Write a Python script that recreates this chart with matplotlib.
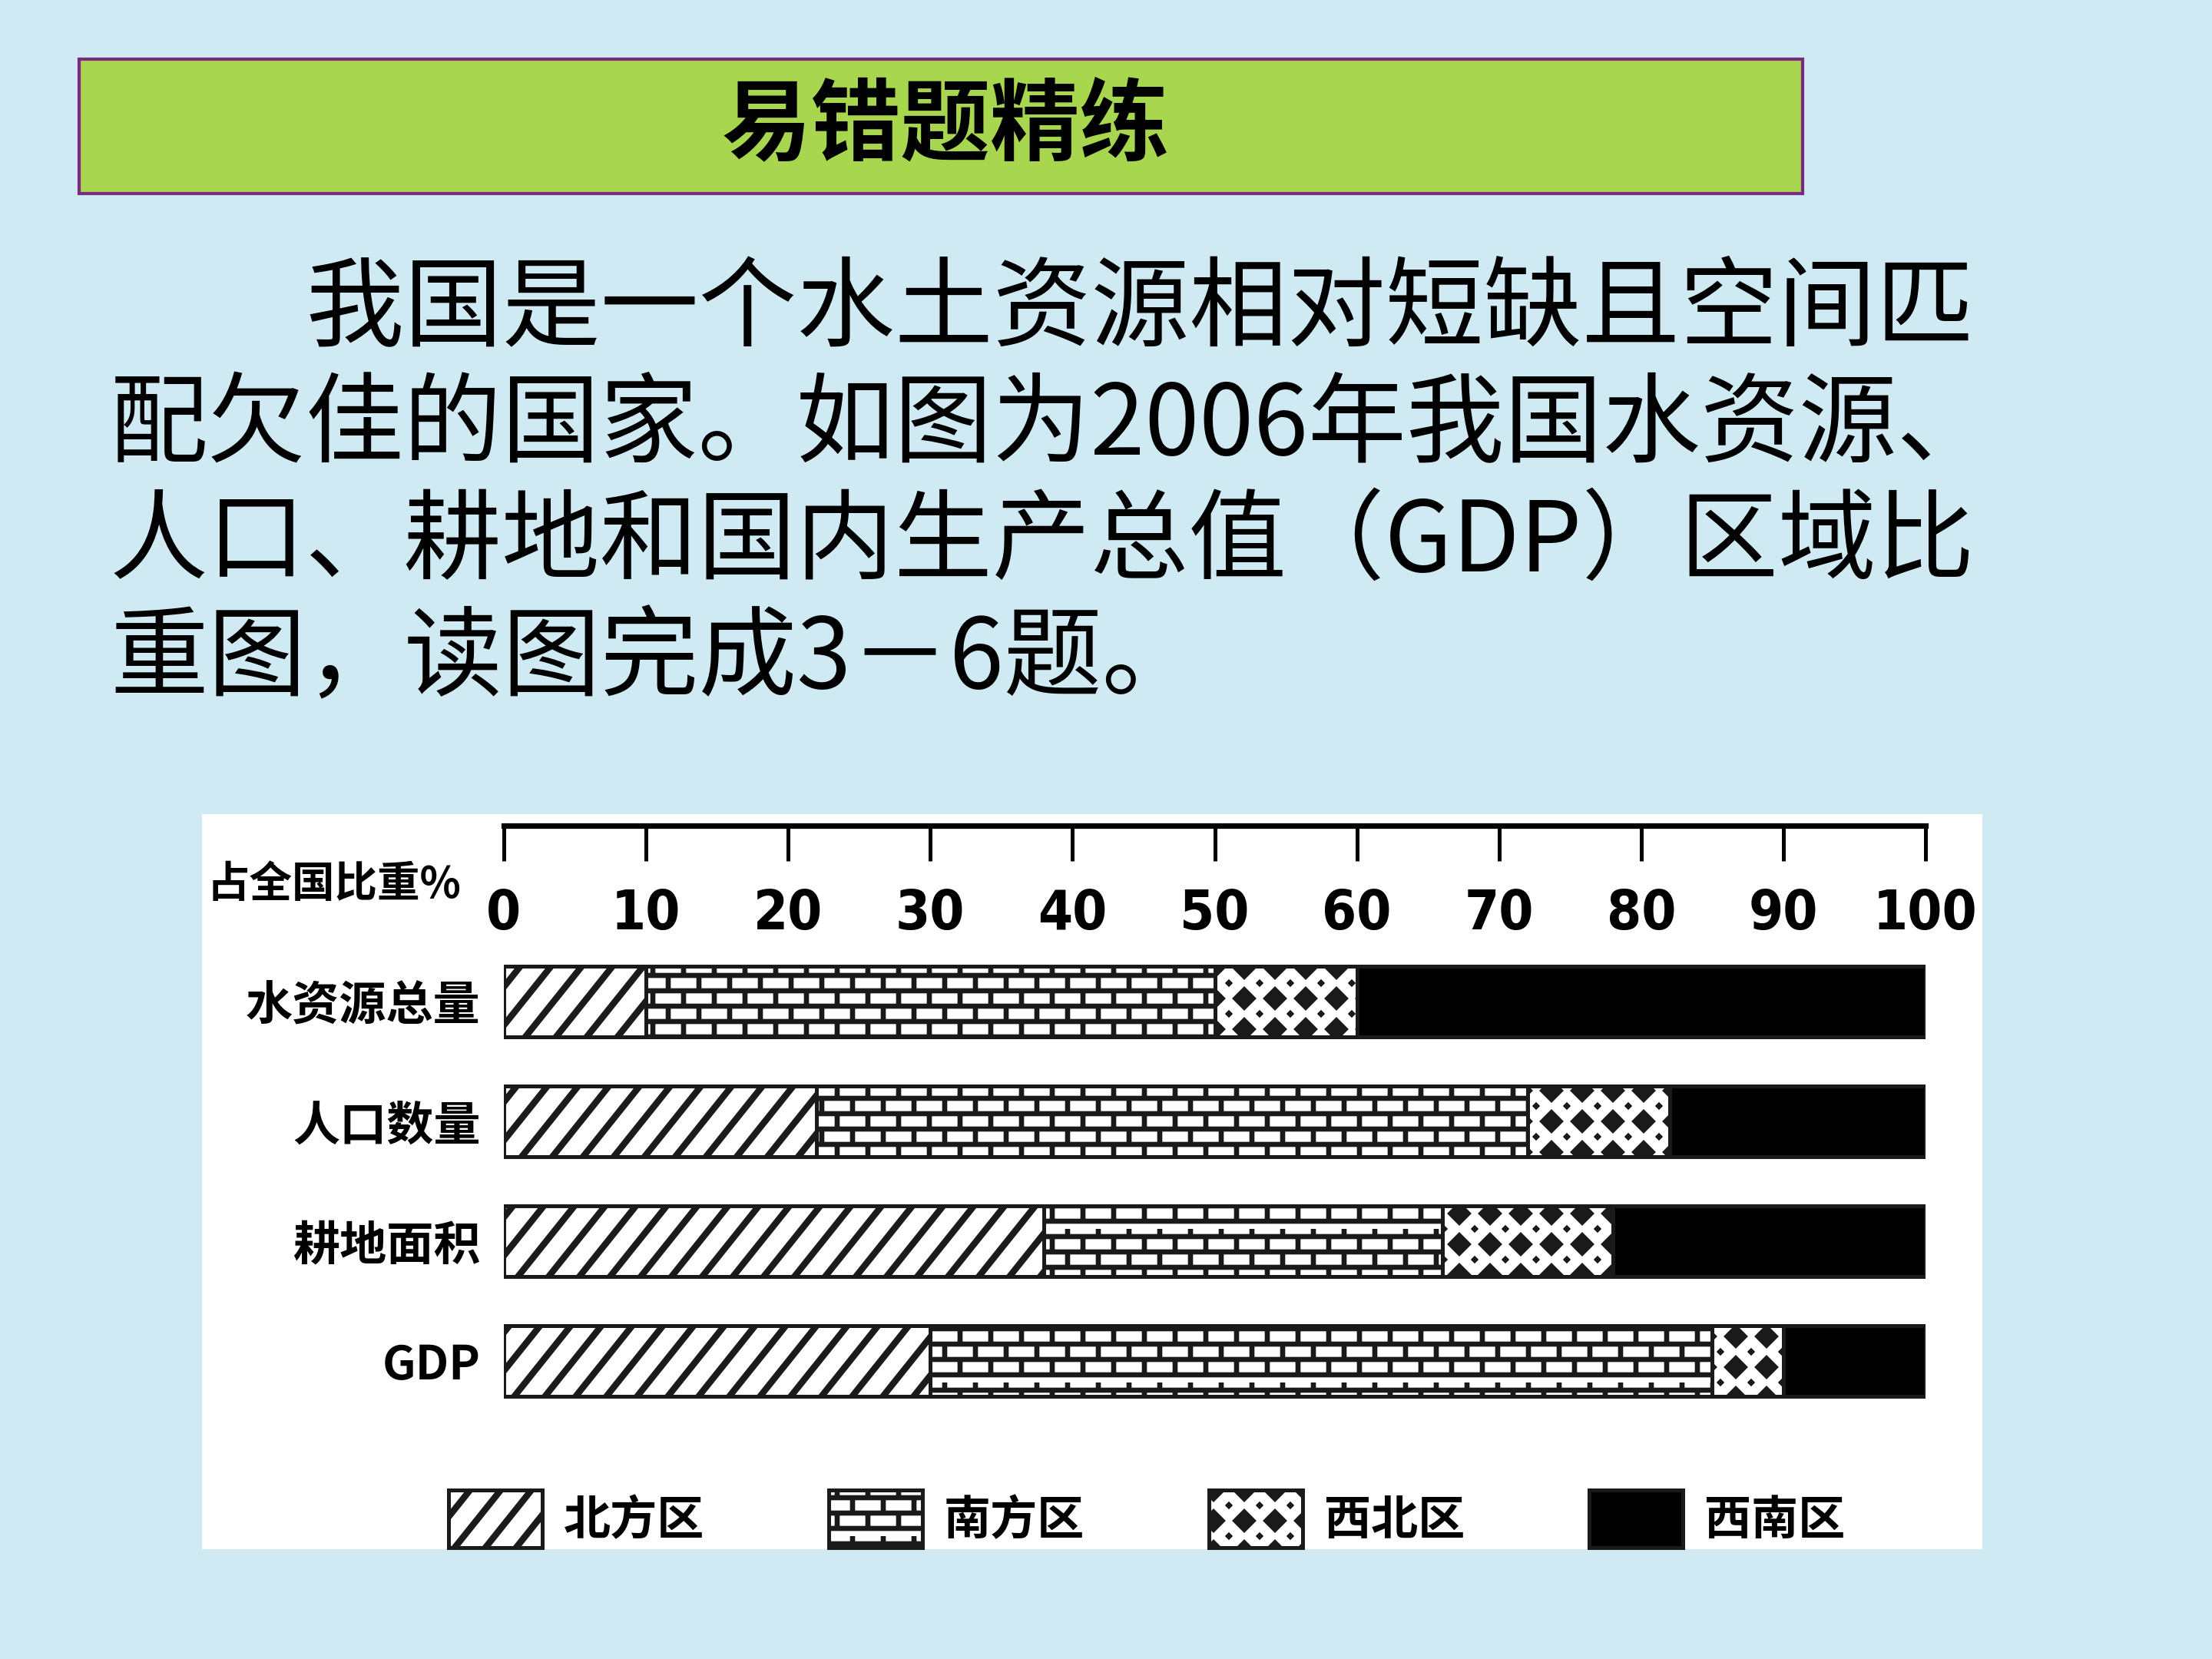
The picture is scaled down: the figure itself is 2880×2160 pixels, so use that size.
import warnings
import numpy as np
import matplotlib
matplotlib.use('Agg')
import matplotlib.pyplot as plt
import matplotlib.hatch as mhatch
from matplotlib.path import Path
from matplotlib.patches import Rectangle
from matplotlib import font_manager as fm

warnings.filterwarnings('ignore')

# データ ---------------------------------------------
categories = ['水资源总量', '人口数量', '耕地面积', 'GDP']
regions = ['北方区', '南方区', '西北区', '西南区']
north = [10, 22, 38, 30]
south = [40, 50, 28, 55]
northwest = [10, 10, 12, 5]
southwest = [40, 18, 22, 10]
xticks = [0, 10, 20, 30, 40, 50, 60, 70, 80, 90, 100]

title = '易错题精练'
body = ['　　我国是一个水土资源相对短缺且空间匹',
        '配欠佳的国家。如图为2006年我国水资源、',
        '人口、耕地和国内生产总值（GDP）区域比',
        '重图，读图完成3－6题。']


# 独自のハッチ (斜線・レンガ・ひし形)、塗りつぶし多角形で作る ----
def _rect(x0, y0, x1, y1):
    return [(x0, y0), (x1, y0), (x1, y1), (x0, y1)]


def _diamond(cx, cy, h):
    return [(cx - h, cy), (cx, cy - h), (cx + h, cy), (cx, cy + h)]


class _Custom(mhatch.HatchPatternBase):
    key = '?'

    def __init__(self, hatch, density):
        self.shapes = self.make() if (hatch and self.key in hatch) else []
        self.num_vertices = sum(len(p) + 1 for p in self.shapes)

    def set_vertices_and_codes(self, vertices, codes):
        k = 0
        for pts in self.shapes:
            n = len(pts)
            vertices[k:k + n] = pts
            codes[k] = Path.MOVETO
            codes[k + 1:k + n] = Path.LINETO
            vertices[k + n] = pts[0]
            codes[k + n] = Path.CLOSEPOLY
            k += n + 1


class Stripe(_Custom):
    key = 'n'

    def make(self):
        w = 0.04
        return [[(x0, -0.05), (x0 + w, -0.05), (x0 + w + 0.88, 1.05), (x0 + 0.88, 1.05)]
                for x0 in [k / 5 - 0.04 for k in range(-7, 8)]]


class Brick(_Custom):
    key = 'b'

    def make(self):
        out = []
        rows, cols, t = 10, 5, 0.011
        for i in range(rows):
            y = (i + 0.5) / rows
            out.append(_rect(-0.05, y - t, 1.05, y + t))
            for j in range(cols + 1):
                x = (j + 0.25 + 0.5 * (i % 2)) / cols
                out.append(_rect(x - t, y, x + t, y + 1 / rows))
        return out


class Diamond(_Custom):
    key = 'd'

    def make(self):
        out = [_diamond(0.2 * i + 0.1, 0.2 * j + 0.1, 0.072)
               for i in range(5) for j in range(5)]
        out += [_diamond(0.2 * i, 0.2 * j, 0.018) for i in range(6) for j in range(6)]
        return out


mhatch._hatch_types.extend([Stripe, Brick, Diamond])

# フォント ------------------------------------------
plt.rcParams['font.family'] = ['Noto Sans CJK SC', 'DejaVu Sans']
plt.rcParams['hatch.linewidth'] = 0.8

# 数字用に細長い書体を探す (なければ Liberation Sans)
num_prop = None
for f in fm.fontManager.ttflist:
    fn = f.fname.lower()
    if ('narrow' in fn or 'condensed' in fn) and 'bold' in fn and 'oblique' not in fn \
            and 'italic' not in fn and 'sans' in fn and 'mono' not in fn:
        num_prop = fm.FontProperties(fname=f.fname, size=26)
        break
if num_prop is None:
    num_prop = fm.FontProperties(family='Liberation Sans', weight='bold', size=24)

W, H = 2880, 2160
fig = plt.figure(figsize=(14.4, 10.8), dpi=200)
fig.patch.set_facecolor('#d0eaf4')

# スライド部分 (ピクセル座標) -------------------------
bg = fig.add_axes([0, 0, 1, 1])
bg.set_xlim(0, W)
bg.set_ylim(H, 0)
bg.axis('off')
bg.add_patch(Rectangle((103, 77), 2244, 175, facecolor='#a8d64e',
                       edgecolor='#7b2a83', linewidth=1.5))
bg.text(1231, 165, title, ha='center', va='center', fontsize=42,
        fontweight='bold', color='black')
for i, line in enumerate(body):
    bg.text(143, 404 + 152 * i, line, ha='left', va='center', fontsize=46,
            color='black')
bg.add_patch(Rectangle((263, 1060), 2318, 957, facecolor='white',
                       edgecolor='none'))
bg.text(270, 1152, '占全国比重%', ha='left', va='center', fontsize=20,
        fontweight='bold')

# 棒グラフ ------------------------------------------
ax = fig.add_axes([656 / W, 1 - 1890 / H, (2507 - 656) / W, (1890 - 1075) / H])
ax.patch.set_visible(False)
y = np.arange(len(categories))
series = [north, south, northwest, southwest]
faces = ['white', 'white', 'white', 'black']
hatches = ['n', 'b', 'd', None]
left = np.zeros(len(categories))
bars = []
for vals, fc, ht, lab in zip(series, faces, hatches, regions):
    b = ax.barh(y, vals, left=left, height=0.59, color=fc, hatch=ht,
                edgecolor='#1a1a1a', linewidth=1.8, label=lab)
    bars.append(b)
    left = left + np.array(vals)

ax.set_xlim(0, 100)
ax.set_ylim(3.756, -1.468)
for s in ['left', 'right', 'bottom']:
    ax.spines[s].set_visible(False)
ax.spines['top'].set_linewidth(2.6)
ax.set_xticks(xticks)
ax.xaxis.set_tick_params(top=True, bottom=False, labeltop=True, labelbottom=False,
                         direction='in', length=16.5, width=1.8, pad=-54)
for t in ax.get_xticklabels():
    t.set_fontproperties(num_prop)
ax.set_yticks(y, categories)
ax.tick_params(axis='y', length=0, pad=11, labelsize=22)
for t in ax.get_yticklabels():
    t.set_fontweight('bold')

fig.legend(handles=bars, labels=regions, loc='lower left',
           bbox_to_anchor=(584 / W, 1 - 2015 / H), ncol=4, frameon=False,
           borderpad=0, borderaxespad=0, handlelength=2.0, handleheight=1.5,
           handletextpad=0.45, columnspacing=2.65,
           prop={'size': 22, 'weight': 'bold'})

fig.savefig('out.png', dpi=200)
